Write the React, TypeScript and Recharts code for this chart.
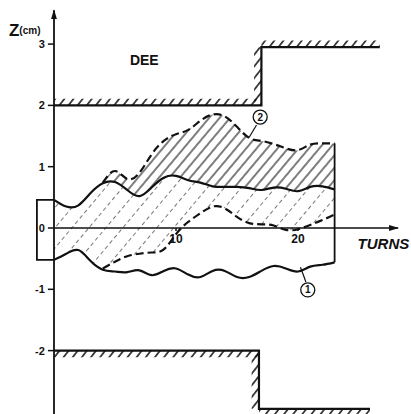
import {
  Area,
  ComposedChart,
  Line,
  ReferenceArea,
  ReferenceDot,
  ReferenceLine,
  XAxis,
  YAxis,
} from "recharts";

// turns sampled along the beam envelopes
const turns = [0, 1, 2, 3, 4, 5, 6, 7, 8, 9, 10, 11, 12, 13, 14, 15, 16, 17, 18, 19, 20, 21, 22, 23];

// beam 1 envelope (solid)
const upper1 = [0.46, 0.35, 0.37, 0.57, 0.73, 0.75, 0.62, 0.52, 0.66, 0.82, 0.85, 0.78, 0.74, 0.68, 0.67, 0.67, 0.65, 0.62, 0.66, 0.64, 0.6, 0.67, 0.68, 0.63];
const lower1 = [-0.52, -0.42, -0.36, -0.54, -0.68, -0.71, -0.72, -0.69, -0.77, -0.7, -0.66, -0.76, -0.8, -0.7, -0.7, -0.8, -0.8, -0.7, -0.62, -0.66, -0.71, -0.63, -0.6, -0.56];

// beam 2 envelope (dashed), starts at turn 4
const upper2 = [null, null, null, null, 0.74, 0.93, 0.8, 0.9, 1.2, 1.42, 1.53, 1.6, 1.75, 1.85, 1.82, 1.65, 1.47, 1.42, 1.37, 1.3, 1.27, 1.36, 1.38, 1.38];
const lower2 = [null, null, null, null, -0.66, -0.55, -0.46, -0.42, -0.4, -0.35, -0.1, 0.1, 0.24, 0.35, 0.32, 0.18, 0.08, 0.06, 0.04, -0.03, -0.02, 0.05, 0.13, 0.22];

// injection box on the left
const boxTurns = [0, -1.4, -1.4, 0];
const boxZ = [0.46, 0.46, -0.52, -0.52];

// dee walls
const wallUpperTurns = [0, 17, 17, 26.7];
const wallUpperZ = [2, 2, 2.95, 2.95];
const wallLowerTurns = [0, 16.8, 16.8, 25.9];
const wallLowerZ = [-2, -2, -2.95, -2.95];

const yTicks = [3, 2, 1, 0, -1, -2];
const xTicks = [10, 20];

const xDomain: [number, number] = [-4.426, 29.262];
const yDomain: [number, number] = [-3.034, 3.719];

const ink = "#111";
const font = "'Liberation Sans', Arial, sans-serif";

const rows = turns.map((t, i) => ({
  t,
  u1: upper1[i],
  l1: lower1[i],
  u2: upper2[i],
  l2: lower2[i],
  dense: upper2[i] == null ? null : [upper1[i], upper2[i]],
  light: [lower2[i] ?? lower1[i], upper1[i]],
}));

const toPoints = (xs: number[], zs: number[]) => xs.map((t, i) => ({ t, z: zs[i] }));

const last = turns.length - 1;
const rightEdge = toPoints([turns[last], turns[last]], [lower1[last], upper2[last] as number]);

const hatchT = 0.6;
const hatchZ = 0.11;

function ZLabel(props: any) {
  const { viewBox } = props;
  const cx = viewBox.x + viewBox.width / 2;
  const cy = viewBox.y + viewBox.height / 2;
  return (
    <text x={cx} y={cy} textAnchor="middle" dominantBaseline="central" fontFamily={font} fontWeight={700} fill={ink}>
      <tspan fontSize={17}>Z</tspan>
      <tspan fontSize={10}>(cm)</tspan>
    </text>
  );
}

export default function App() {
  return (
    <div style={{ position: "absolute", left: 0, top: 0, background: "#fff" }}>
      <ComposedChart width={411} height={414} data={rows} margin={{ top: 0, right: 0, bottom: 0, left: 0 }}>
        <defs>
          <pattern id="dense" patternUnits="userSpaceOnUse" width="8" height="8" patternTransform="rotate(40)">
            <line x1="4" y1="0" x2="4" y2="8" stroke={ink} strokeWidth="1.1" />
          </pattern>
          <pattern id="light" patternUnits="userSpaceOnUse" width="13" height="14" patternTransform="rotate(40)">
            <line x1="6.5" y1="0" x2="6.5" y2="14" stroke="#555" strokeWidth="0.8" strokeDasharray="4 3" />
          </pattern>
          <pattern id="wall" patternUnits="userSpaceOnUse" width="7.2" height="8" patternTransform="rotate(38)">
            <line x1="3.6" y1="0" x2="3.6" y2="8" stroke={ink} strokeWidth="1.5" />
          </pattern>
          <marker id="arrow" markerWidth="10" markerHeight="8" refX="9" refY="4" orient="auto" markerUnits="userSpaceOnUse">
            <path d="M0,1 L10,4 L0,7 Z" fill={ink} />
          </marker>
        </defs>
        <XAxis type="number" dataKey="t" domain={xDomain} hide allowDataOverflow />
        <YAxis type="number" domain={yDomain} hide allowDataOverflow />

        {/* wall hatching */}
        <ReferenceArea x1={wallUpperTurns[0]} x2={wallUpperTurns[1]} y1={wallUpperZ[0]} y2={wallUpperZ[0] + hatchZ} fill="url(#wall)" fillOpacity={1} ifOverflow="visible" />
        <ReferenceArea x1={wallUpperTurns[1] - hatchT} x2={wallUpperTurns[1]} y1={wallUpperZ[1]} y2={wallUpperZ[2]} fill="url(#wall)" fillOpacity={1} ifOverflow="visible" />
        <ReferenceArea x1={wallUpperTurns[2]} x2={wallUpperTurns[3]} y1={wallUpperZ[2]} y2={wallUpperZ[2] + hatchZ} fill="url(#wall)" fillOpacity={1} ifOverflow="visible" />
        <ReferenceArea x1={wallLowerTurns[0]} x2={wallLowerTurns[1]} y1={wallLowerZ[0] - hatchZ} y2={wallLowerZ[0]} fill="url(#wall)" fillOpacity={1} ifOverflow="visible" />
        <ReferenceArea x1={wallLowerTurns[1] - hatchT} x2={wallLowerTurns[1]} y1={wallLowerZ[2]} y2={wallLowerZ[1]} fill="url(#wall)" fillOpacity={1} ifOverflow="visible" />
        <ReferenceArea x1={wallLowerTurns[2]} x2={wallLowerTurns[3]} y1={wallLowerZ[2] - hatchZ} y2={wallLowerZ[2]} fill="url(#wall)" fillOpacity={1} ifOverflow="visible" />

        {/* envelope hatching */}
        <Area dataKey="light" type="natural" stroke="none" fill="url(#light)" fillOpacity={1} isAnimationActive={false} activeDot={false} />
        <Area dataKey="dense" type="natural" stroke="none" fill="url(#dense)" fillOpacity={1} isAnimationActive={false} activeDot={false} />

        {/* envelopes */}
        <Line dataKey="u1" type="natural" stroke={ink} strokeWidth={2.2} dot={false} activeDot={false} isAnimationActive={false} />
        <Line dataKey="l1" type="natural" stroke={ink} strokeWidth={2.2} dot={false} activeDot={false} isAnimationActive={false} />
        <Line dataKey="u2" type="natural" stroke={ink} strokeWidth={2.2} strokeDasharray="8 4" dot={false} activeDot={false} isAnimationActive={false} />
        <Line dataKey="l2" type="natural" stroke={ink} strokeWidth={2.2} strokeDasharray="8 4" dot={false} activeDot={false} isAnimationActive={false} />
        <Line data={toPoints(boxTurns, boxZ)} dataKey="z" type="linear" stroke={ink} strokeWidth={1.8} dot={false} activeDot={false} isAnimationActive={false} />
        <Line data={rightEdge} dataKey="z" type="linear" stroke={ink} strokeWidth={1.8} dot={false} activeDot={false} isAnimationActive={false} />

        {/* walls */}
        <Line data={toPoints(wallUpperTurns, wallUpperZ)} dataKey="z" type="linear" stroke={ink} strokeWidth={2.2} dot={false} activeDot={false} isAnimationActive={false} />
        <Line data={toPoints(wallLowerTurns, wallLowerZ)} dataKey="z" type="linear" stroke={ink} strokeWidth={2.2} dot={false} activeDot={false} isAnimationActive={false} />

        {/* axes */}
        <ReferenceLine segment={[{ x: 0, y: yDomain[0] }, { x: 0, y: 3.55 }]} stroke={ink} strokeWidth={1.8} markerEnd="url(#arrow)" ifOverflow="visible" />
        <ReferenceLine segment={[{ x: 0, y: 0 }, { x: 28.2, y: 0 }]} stroke={ink} strokeWidth={1.6} markerEnd="url(#arrow)" ifOverflow="visible" />
        {yTicks.map((v) => (
          <ReferenceLine
            key={`y${v}`}
            segment={[{ x: -0.5, y: v }, { x: 0, y: v }]}
            stroke={ink}
            strokeWidth={1.5}
            ifOverflow="visible"
            label={{ value: String(v), position: "left", offset: 3, fontSize: 11, fontWeight: 700, fill: ink, fontFamily: font }}
          />
        ))}
        {xTicks.map((v) => (
          <ReferenceLine
            key={`x${v}`}
            segment={[{ x: v, y: 0 }, { x: v, y: -0.05 }]}
            stroke={ink}
            strokeWidth={1.5}
            ifOverflow="visible"
            label={{ value: String(v), position: "bottom", offset: 3, fontSize: 12, fontWeight: 700, fill: ink, fontFamily: font }}
          />
        ))}

        {/* circled curve labels */}
        <ReferenceLine segment={[{ x: 16.6, y: 1.68 }, { x: 16.0, y: 1.48 }]} stroke={ink} strokeWidth={1.2} />
        <ReferenceDot x={16.9} y={1.81} r={7} fill="#fff" stroke={ink} strokeWidth={1.3} label={{ value: "2", position: "center", fontSize: 10, fontWeight: 700, fill: ink, fontFamily: font }} />
        <ReferenceLine segment={[{ x: 20.65, y: -0.88 }, { x: 20.2, y: -0.64 }]} stroke={ink} strokeWidth={1.2} />
        <ReferenceDot x={20.8} y={-1.01} r={7} fill="#fff" stroke={ink} strokeWidth={1.3} label={{ value: "1", position: "center", fontSize: 10, fontWeight: 700, fill: ink, fontFamily: font }} />

        {/* text */}
        <ReferenceDot x={7.4} y={2.74} r={1} fill="none" stroke="none" label={{ value: "DEE", position: "center", fontSize: 14, fontWeight: 700, fill: ink, fontFamily: font }} />
        <ReferenceDot x={27.0} y={-0.25} r={1} fill="none" stroke="none" ifOverflow="visible" label={{ value: "TURNS", position: "center", fontSize: 15, fontWeight: 700, fontStyle: "italic", fill: ink, fontFamily: font }} />
        <ReferenceDot x={-2.4} y={3.23} r={1} fill="none" stroke="none" label={<ZLabel />} />
      </ComposedChart>
    </div>
  );
}
